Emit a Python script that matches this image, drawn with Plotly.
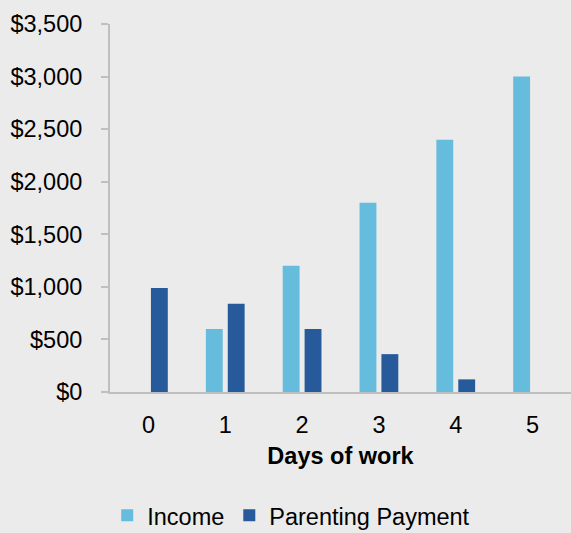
import plotly.graph_objects as go

days = ["0", "1", "2", "3", "4", "5"]
income = [0, 600, 1200, 1800, 2400, 3000]
parenting = [990, 840, 600, 360, 120, 0]
y_ticks = [0, 500, 1000, 1500, 2000, 2500, 3000, 3500]
y_labels = ["$0", "$500", "$1,000", "$1,500", "$2,000", "$2,500", "$3,000", "$3,500"]

FONT = "Liberation Sans, Arial, sans-serif"
BG = "#EBEBEB"

fig = go.Figure()
fig.add_trace(go.Bar(name="Income", x=days, y=income, marker=dict(color="#66BCDC", line=dict(width=0))))
fig.add_trace(go.Bar(name="Parenting Payment", x=days, y=parenting, marker=dict(color="#265A9A", line=dict(width=0))))

fig.update_layout(
    width=571, height=533,
    paper_bgcolor=BG, plot_bgcolor=BG,
    margin=dict(l=110, r=0, t=24, b=141),
    barmode="group", bargap=0.43, bargroupgap=0.23,
    font=dict(family=FONT, size=23.5, color="#000000"),
    showlegend=True,
    legend=dict(orientation="h", xref="container", yref="container",
                x=0.51, xanchor="center", y=0.074, yanchor="top",
                font=dict(size=23.5), bgcolor="rgba(0,0,0,0)"),
    xaxis=dict(
        automargin=False,
        showgrid=False, showline=True, linecolor="#BFBFBF", linewidth=2,
        ticks="", tickfont=dict(size=23.5), ticklabelstandoff=11,
        title=dict(text="<b>Days of work</b>", font=dict(size=23.5), standoff=10),
    ),
    yaxis=dict(
        automargin=False,
        range=[0, 3500], showgrid=False, zeroline=False,
        showline=True, linecolor="#BFBFBF", linewidth=2,
        ticks="outside", ticklen=7, tickcolor="#BFBFBF", tickwidth=2,
        tickvals=y_ticks, ticktext=y_labels, tickfont=dict(size=23.5),
        ticklabelstandoff=14,
    ),
)

fig.write_html("out.html", config={"displayModeBar": False},
               post_script="document.body.style.margin='0';document.body.style.background='#EBEBEB';")
